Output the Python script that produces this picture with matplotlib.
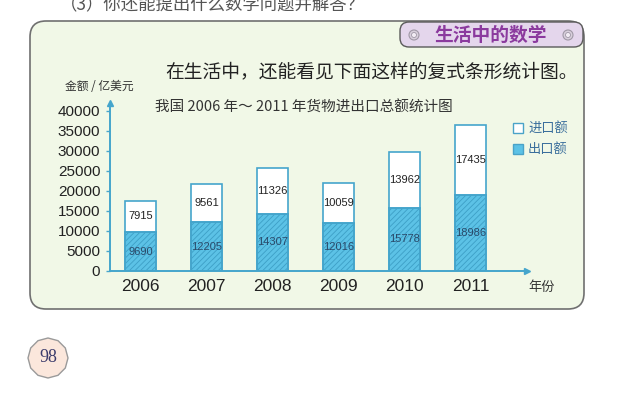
import numpy as np
import matplotlib
matplotlib.use("Agg")
import matplotlib.pyplot as plt
from matplotlib.patches import FancyBboxPatch, Rectangle, Circle, RegularPolygon

plt.rcParams['font.family'] = ['Noto Sans CJK SC', 'DejaVu Sans']
plt.rcParams['hatch.linewidth'] = 0.6

# 数据
years = ['2006', '2007', '2008', '2009', '2010', '2011']
export_vals = [9690, 12205, 14307, 12016, 15778, 18986]   # 出口额
import_vals = [7915, 9561, 11326, 10059, 13962, 17435]    # 进口额
y_ticks = [0, 5000, 10000, 15000, 20000, 25000, 30000, 35000, 40000]

W, H = 640, 394
fig = plt.figure(figsize=(W / 100, H / 100), dpi=100)
fig.patch.set_facecolor('white')

# 背景层（像素坐标）
bg = fig.add_axes([0, 0, 1, 1], zorder=0)
bg.set_xlim(0, W)
bg.set_ylim(H, 0)
bg.axis('off')

panel = FancyBboxPatch((30, 21), 554, 288, boxstyle="round,pad=0,rounding_size=16",
                       fc='#f1f8e7', ec='#707070', lw=1.2)
bg.add_patch(panel)

badge = FancyBboxPatch((400, 22), 183, 25, boxstyle="round,pad=0,rounding_size=9",
                       fc='#e4d6ec', ec='#5a5a5a', lw=1.0)
bg.add_patch(badge)
bg.text(491, 35, '生活中的数学', color='#8b3a9e', fontsize=13.5, fontweight='bold',
        ha='center', va='center')
for cx in (414, 568):
    bg.add_patch(Circle((cx, 35), 5, fc='#d8cfdc', ec='#a098a6', lw=0.8))
    bg.add_patch(Circle((cx, 35), 2.5, fc='#f2ecf4', ec='#a098a6', lw=0.6))

# 页面上方被截断的题目
bg.text(60, 4, '（3）你还能提出什么数学问题并解答？', color='#555555', fontsize=12.5,
        fontweight='light', ha='left', va='center')

bg.text(165, 72, '在生活中，还能看见下面这样的复式条形统计图。', color='#222222',
        fontsize=13.5, fontweight='light', ha='left', va='center')
bg.text(155, 108, '我国 2006 年～ 2011 年货物进出口总额统计图', color='#333333',
        fontsize=10.5, fontweight='light', ha='left', va='center')
bg.text(65, 86, '金额 / 亿美元', color='#333333', fontsize=8.5, ha='left', va='center')
bg.text(528, 287, '年份', color='#333333', fontsize=9.5, ha='left', va='center')

# 图例
bg.add_patch(Rectangle((513, 123), 10, 10, fc='white', ec='#4aa3c8', lw=1))
bg.add_patch(Rectangle((513, 144), 10, 10, fc='#5cc2e6', ec='#4aa3c8', lw=1))
bg.text(528, 128, '进口额', color='#3a6e9c', fontsize=9.5, ha='left', va='center')
bg.text(528, 149, '出口额', color='#3a6e9c', fontsize=9.5, ha='left', va='center')

# 页码
bg.add_patch(RegularPolygon((48, 358), 12, radius=20, fc='#fbe7dc', ec='#9a9a9a', lw=1))
bg.text(48, 358, '98', color='#3c3c6c', fontsize=13, family='Liberation Serif',
        ha='center', va='center')

# 统计图
axc = '#45a5cc'
ax = fig.add_axes([110 / W, 1 - 271 / H, 417 / W, 168 / H], zorder=1)
ax.patch.set_alpha(0)
x = np.arange(len(years))
bw = 0.47
ax.bar(x, export_vals, bw, color='#5cc2e6', edgecolor=axc, lw=1.2, zorder=2)
ax.bar(x, export_vals, bw, color='none', edgecolor='#3d9fc6', hatch='//////', lw=0, zorder=3)
ax.bar(x, export_vals, bw, color='none', edgecolor=axc, lw=1.2, zorder=4)
ax.bar(x, import_vals, bw, bottom=export_vals, color='white', edgecolor=axc, lw=1.2, zorder=2)

for i in range(len(years)):
    ax.text(x[i], export_vals[i] / 2, str(export_vals[i]), ha='center', va='center',
            fontsize=8, family='Liberation Sans', color='#2a4a6a', zorder=5)
    ax.text(x[i], export_vals[i] + import_vals[i] / 2, str(import_vals[i]), ha='center',
            va='center', fontsize=8, family='Liberation Sans', color='#222222', zorder=5)

ax.set_xlim(-0.462, 5.856)
ax.set_ylim(0, 42000)
ax.set_xticks(x)
ax.set_xticklabels(years, fontsize=12.5, family='Liberation Sans', color='#222222')
ax.set_yticks(y_ticks)
ax.set_yticklabels([str(v) for v in y_ticks], fontsize=11, family='Liberation Sans',
                   color='#222222')
ax.tick_params(axis='x', length=0, pad=6)
ax.tick_params(axis='y', length=3, width=1, color=axc, direction='out', pad=4)
for s in ('top', 'right'):
    ax.spines[s].set_visible(False)
for s in ('left', 'bottom'):
    ax.spines[s].set_color(axc)
    ax.spines[s].set_linewidth(1.4)
ax.plot(0, 1, '^', color=axc, ms=5, transform=ax.transAxes, clip_on=False)
ax.plot(1, 0, '>', color=axc, ms=5, transform=ax.transAxes, clip_on=False)

fig.savefig('out.png', dpi=100, facecolor='white')
